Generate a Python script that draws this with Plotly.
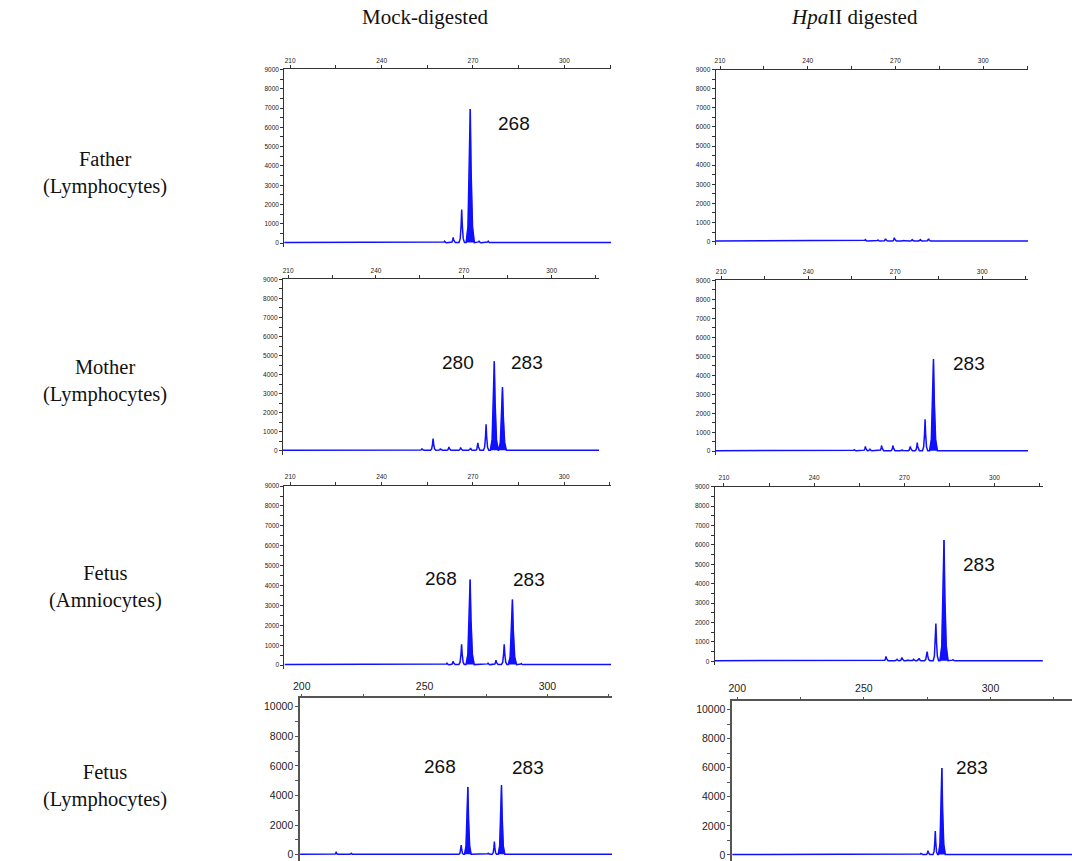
import plotly.graph_objects as go

W, H = 1072, 861

# Texts
column_titles = ["Mock-digested", "<i>Hpa</i>II digested"]
row_labels = ["Father<br>(Lymphocytes)", "Mother<br>(Lymphocytes)",
              "Fetus<br>(Amniocytes)", "Fetus<br>(Lymphocytes)"]

# Peaks: size (bp) and height (RFU)
# open = outline only, called = filled allele peaks
father_mock_open_bp = [221.0, 253.8, 258.0, 260.7, 263.5, 266.3, 272.0, 275.0]
father_mock_open_rfu = [40, 60, 60, 100, 300, 1750, 100, 100]
father_mock_called_bp = [269.1]
father_mock_called_rfu = [6950]
father_mock_labels = ["268"]

mother_mock_open_bp = [255.7, 259.5, 262.0, 264.9, 268.9, 272.3, 274.8, 277.6]
mother_mock_open_rfu = [120, 650, 120, 200, 180, 150, 420, 1400]
mother_mock_called_bp = [280.4, 283.2]
mother_mock_called_rfu = [4700, 3350]
mother_mock_labels = ["280", "283"]

fetus_amnio_mock_open_bp = [221.0, 258.2, 261.5, 263.5, 266.3, 275.0, 277.6, 280.3, 285.9]
fetus_amnio_mock_open_rfu = [60, 60, 100, 200, 1050, 100, 250, 1050, 80]
fetus_amnio_mock_called_bp = [269.1, 283.0]
fetus_amnio_mock_called_rfu = [4300, 3300]
fetus_amnio_mock_labels = ["268", "283"]

fetus_lympho_mock_open_bp = [210.0, 214.0, 220.2, 264.9, 275.9, 278.4, 321.0]
fetus_lympho_mock_open_rfu = [50, 200, 100, 660, 100, 900, 60]
fetus_lympho_mock_called_bp = [267.6, 281.3]
fetus_lympho_mock_called_rfu = [4580, 4710]
fetus_lympho_mock_labels = ["268", "283"]

father_hpa_open_bp = [259.7, 264.0, 266.6, 269.6, 272.7, 275.7, 278.5, 281.3]
father_hpa_open_rfu = [100, 80, 150, 200, 80, 100, 100, 150]
father_hpa_called_bp = []
father_hpa_called_rfu = []
father_hpa_labels = []

mother_hpa_open_bp = [255.9, 259.7, 261.3, 265.3, 269.2, 272.3, 275.2, 277.6, 280.3, 286.0, 302.8]
mother_hpa_open_rfu = [80, 250, 100, 300, 300, 80, 250, 450, 1680, 60, 40]
mother_hpa_called_bp = [283.2]
mother_hpa_called_rfu = [4860]
mother_hpa_labels = ["283"]

fetus_amnio_hpa_open_bp = [263.9, 267.6, 269.2, 271.1, 273.1, 274.9, 277.6, 280.5, 286.2, 292.0]
fetus_amnio_hpa_open_rfu = [250, 100, 200, 80, 100, 150, 500, 1950, 80, 40]
fetus_amnio_hpa_called_bp = [283.2]
fetus_amnio_hpa_called_rfu = [6250]
fetus_amnio_hpa_labels = ["283"]

fetus_lympho_hpa_open_bp = [260.1, 270.0, 272.5, 275.3, 278.2, 322.2]
fetus_lympho_hpa_open_rfu = [60, 80, 100, 300, 1650, 60]
fetus_lympho_hpa_called_bp = [280.8]
fetus_lympho_hpa_called_rfu = [5980]
fetus_lympho_hpa_labels = ["283"]

# panel layout: data, pixel box (left, right, top, bottom), x range, y range, big font?, label spots
panels = [
    (father_mock_open_bp, father_mock_open_rfu, father_mock_called_bp, father_mock_called_rfu,
     father_mock_labels, (279, 608, 65.7, 244.2), [208.04, 315.3], [-200, 9000], False,
     [(283.6, 6185)]),
    (mother_mock_open_bp, mother_mock_open_rfu, mother_mock_called_bp, mother_mock_called_rfu,
     mother_mock_labels, (277.7, 596, 276.7, 452.8), [208.2, 316.2], [-200, 9000], False,
     [(268.0, 4634), (291.7, 4634)]),
    (fetus_amnio_mock_open_bp, fetus_amnio_mock_open_rfu, fetus_amnio_mock_called_bp,
     fetus_amnio_mock_called_rfu, fetus_amnio_mock_labels, (279.3, 608, 484.3, 668.3),
     [208.1, 315.4], [-200, 9000], False, [(259.4, 4350), (288.5, 4315)]),
    (fetus_lympho_mock_open_bp, fetus_lympho_mock_open_rfu, fetus_lympho_mock_called_bp,
     fetus_lympho_mock_called_rfu, fetus_lympho_mock_labels, (295, 609, 697.7, 861),
     [199.3, 326.3], [-420, 10550], True, [(256.4, 5932), (292.2, 5866)]),
    (father_hpa_open_bp, father_hpa_open_rfu, father_hpa_called_bp, father_hpa_called_rfu,
     father_hpa_labels, (713.3, 1027.7, 66, 242.5), [208.5, 315.3], [-200, 9000], False, []),
    (mother_hpa_open_bp, mother_hpa_open_rfu, mother_hpa_called_bp, mother_hpa_called_rfu,
     mother_hpa_labels, (713.3, 1027.7, 277.7, 453.1), [208.05, 315.8], [-200, 9000], False,
     [(295.3, 4614)]),
    (fetus_amnio_hpa_open_bp, fetus_amnio_hpa_open_rfu, fetus_amnio_hpa_called_bp,
     fetus_amnio_hpa_called_rfu, fetus_amnio_hpa_labels, (712.3, 1042.7, 485, 664.2),
     [206.9, 316.1], [-200, 9000], False, [(295.0, 5010)]),
    (fetus_lympho_hpa_open_bp, fetus_lympho_hpa_open_rfu, fetus_lympho_hpa_called_bp,
     fetus_lympho_hpa_called_rfu, fetus_lympho_hpa_labels, (730, 1072, 700.7, 861),
     [198, 332.2], [-420, 10560], True, [(292.7, 6005)]),
]

BLUE = "#1010ff"
BASE = 30
# peak outline template (offset in half-widths, fraction of height)
SHAPE_DX = [-1, -0.55, -0.22, 0, 0.22, 0.55, 1]
SHAPE_FY = [0, 0.12, 0.52, 1, 0.52, 0.12, 0]


def peak_pts(bp, rfu, w):
    xs = [bp + d * w for d in SHAPE_DX]
    ys = [BASE + f * (rfu - BASE) for f in SHAPE_FY]
    return xs, ys


def width_for(rfu, called):
    if called:
        return 1.35
    return 0.9 if rfu >= 500 else 0.7


fig = go.Figure()
layout = dict(width=W, height=H, margin=dict(l=0, r=0, t=0, b=0),
              paper_bgcolor="white", plot_bgcolor="white", showlegend=False,
              annotations=[])

for i, (ob, orfu, cb, crfu, labs, box, xr, yr, big, spots) in enumerate(panels):
    n = "" if i == 0 else str(i + 1)
    xa, ya = "x" + n, "y" + n
    left, right, top, bottom = box

    peaks = sorted([(b, r, False) for b, r in zip(ob, orfu)] +
                   [(b, r, True) for b, r in zip(cb, crfu)])
    lx, ly = [xr[0]], [BASE]
    fx, fy = [], []
    for b, r, called in peaks:
        px, py = peak_pts(b, r, width_for(r, called))
        lx += px
        ly += py
        if called:
            fx += px + [None]
            fy += py + [None]
    lx.append(xr[1])
    ly.append(BASE)

    if fx:
        fig.add_trace(go.Scatter(x=fx, y=fy, xaxis=xa, yaxis=ya, mode="lines",
                                 fill="toself", fillcolor=BLUE,
                                 line=dict(color=BLUE, width=0.5), hoverinfo="skip"))
    fig.add_trace(go.Scatter(x=lx, y=ly, xaxis=xa, yaxis=ya, mode="lines",
                             line=dict(color=BLUE, width=1.5), hoverinfo="skip"))

    fs = 10.5 if big else 6.5
    axcol = "#555" if big else "#333"
    lw = 1.5 if big else 1
    layout["xaxis" + n] = dict(
        domain=[left / W, min(right / W, 1)], anchor=ya, side="top", range=xr,
        tick0=200 if big else 210, dtick=50 if big else 30,
        minor=dict(dtick=25 if big else 15, ticks="outside", ticklen=3, tickcolor=axcol),
        ticks="outside", ticklen=3, tickcolor=axcol, showline=True, linecolor=axcol,
        linewidth=lw, showgrid=False, zeroline=False, tickformat="d",
        tickfont=dict(family="Liberation Sans", size=fs, color="#222"), fixedrange=True)
    layout["yaxis" + n] = dict(
        domain=[max(1 - bottom / H, 0), 1 - top / H], anchor=xa, range=yr,
        tick0=0, dtick=2000 if big else 1000, tickformat="d",
        minor=dict(dtick=1000 if big else 500, ticks="outside", ticklen=3, tickcolor=axcol),
        ticks="outside", ticklen=3, tickcolor=axcol, showline=True, linecolor=axcol,
        linewidth=lw, showgrid=False, zeroline=False,
        tickfont=dict(family="Liberation Sans", size=fs, color="#222"), fixedrange=True)

    for text, (sx, sy) in zip(labs, spots):
        layout["annotations"].append(dict(
            x=sx, y=sy, xref=xa, yref=ya, text=text, showarrow=False,
            xanchor="center", yanchor="middle",
            font=dict(family="Liberation Sans", size=19, color="#111")))

# column titles
for text, cx in zip(column_titles, [421, 853]):
    layout["annotations"].append(dict(
        x=cx / W, y=1 - 13 / H, xref="paper", yref="paper", text=text, showarrow=False,
        xanchor="center", yanchor="middle",
        font=dict(family="Liberation Serif", size=21, color="#111")))

# row labels
for text, cy in zip(row_labels, [170, 379, 586, 786]):
    layout["annotations"].append(dict(
        x=99 / W, y=1 - cy / H, xref="paper", yref="paper", text=text, showarrow=False,
        xanchor="center", yanchor="middle", align="center",
        font=dict(family="Liberation Serif", size=20.5, color="#111")))

fig.update_layout(**layout)
fig.write_html("out.html", config={"displayModeBar": False},
               post_script="document.body.style.margin='0';document.body.style.overflow='hidden';")
